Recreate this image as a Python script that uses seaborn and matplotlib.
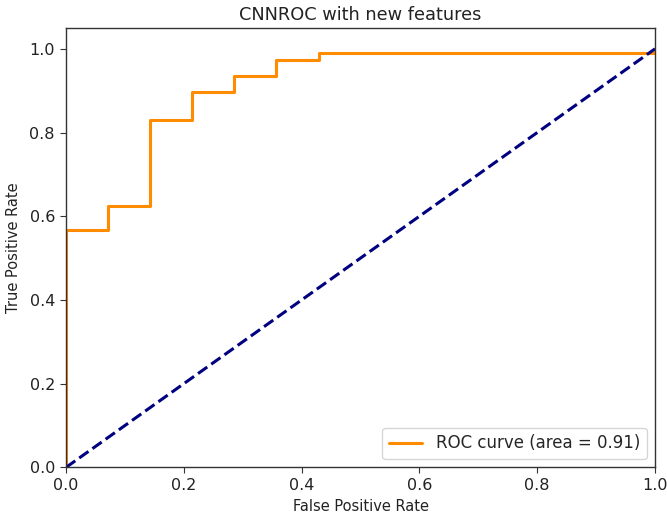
import matplotlib
matplotlib.use("Agg")
import matplotlib.pyplot as plt
import seaborn as sns
import pandas as pd

fpr = [0.0, 0.0, 0.071, 0.071, 0.143, 0.143, 0.214, 0.214, 0.286, 0.286,
       0.357, 0.357, 0.429, 0.429, 1.0, 1.0]
tpr = [0.0, 0.566, 0.566, 0.624, 0.624, 0.830, 0.830, 0.896, 0.896, 0.934,
       0.934, 0.974, 0.974, 0.990, 0.990, 1.0]
chance_x = [0.0, 1.0]
chance_y = [0.0, 1.0]
roc_auc = 0.91

sns.set_style("ticks")
plt.rcParams['font.family'] = ['DejaVu Sans']

fig = plt.figure(figsize=(6.67, 5.17), dpi=100)
ax = fig.add_axes([0.099, 0.096, 0.883, 0.850])

df = pd.DataFrame({"fpr": fpr, "tpr": tpr})
sns.lineplot(data=df, x="fpr", y="tpr", sort=False, estimator=None,
             color="darkorange", lw=2.2, ax=ax,
             label="ROC curve (area = %0.2f)" % roc_auc)
sns.lineplot(x=chance_x, y=chance_y, color="navy", lw=2.2, linestyle="--",
             ax=ax, sort=False, estimator=None)

ax.set_xlim(0.0, 1.0)
ax.set_ylim(0.0, 1.05)
ax.set_xticks([0.0, 0.2, 0.4, 0.6, 0.8, 1.0])
ax.set_yticks([0.0, 0.2, 0.4, 0.6, 0.8, 1.0])
ax.set_xlabel("False Positive Rate", fontsize=10.5, color="#222222")
ax.set_ylabel("True Positive Rate", fontsize=10.5, color="#222222", labelpad=6)
ax.set_title("CNNROC with new features", fontsize=12.8, color="#222222")
ax.tick_params(labelsize=11.5, length=4.5, color="#333333", labelcolor="#222222")
for s in ax.spines.values():
    s.set_visible(True)
    s.set_color("#333333")
    s.set_linewidth(1.0)
leg = ax.legend(loc="lower right", fontsize=12, frameon=True, fancybox=True)
leg.get_frame().set_edgecolor("#cccccc")

fig.savefig("out.png", dpi=100)
